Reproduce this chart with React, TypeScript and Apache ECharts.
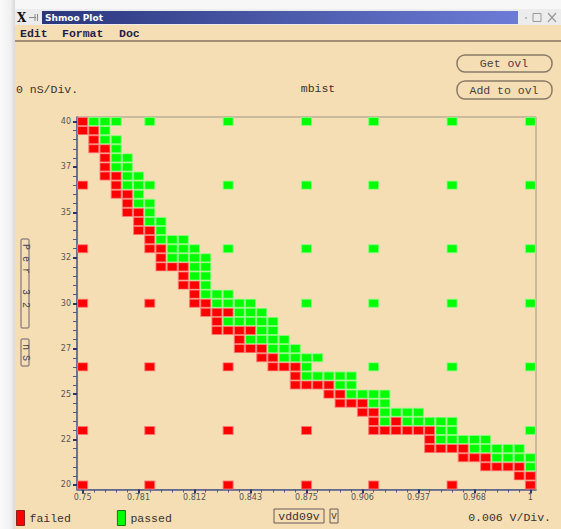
import { useEffect, useRef } from "react";
import * as echarts from "echarts";

// Supply voltage steps (V), one per column
const voltages = [
  0.75, 0.75625, 0.7625, 0.76875, 0.775, 0.78125, 0.7875, 0.79375, 0.8, 0.80625,
  0.8125, 0.81875, 0.825, 0.83125, 0.8375, 0.84375, 0.85, 0.85625, 0.8625, 0.86875,
  0.875, 0.88125, 0.8875, 0.89375, 0.9, 0.90625, 0.9125, 0.91875, 0.925, 0.93125,
  0.9375, 0.94375, 0.95, 0.95625, 0.9625, 0.96875, 0.975, 0.98125, 0.9875, 0.99375, 1,
];

// Period steps (nS), one per row, top to bottom
const timesNs = [
  40, 39.5, 39, 38.5, 38, 37.5, 37, 36.5, 36, 35.5, 35, 34.5, 34, 33.5, 33, 32.5,
  32, 31.5, 31, 30.5, 30, 29.5, 29, 28.5, 28, 27.5, 27, 26.5, 26, 25.5, 25, 24.5,
  24, 23.5, 23, 22.5, 22, 21.5, 21, 20.5, 20,
];

const xTickLabels = ["0.75", "0.781", "0.812", "0.843", "0.875", "0.906", "0.937", "0.968", "1"];
const yTickLabels = ["40", "37", "35", "32", "30", "27", "25", "22", "20"];

// Column indices (into voltages) of failed cells, per row of timesNs
const failedByRow: number[][] = [
  [0], [0, 1], [1], [1, 2], [2], [2], [2, 3], [0, 3], [3, 4], [4],
  [4, 5], [5], [5, 6], [6], [0, 6, 7], [7], [7, 8, 9], [9], [9, 10], [10],
  [0, 6, 10, 11], [11, 12, 13], [12], [12, 13, 14, 15], [14], [14, 15, 16], [16, 17],
  [0, 6, 13, 17, 18, 19], [19], [19, 20, 21, 22], [22, 23], [23, 24, 25], [25, 26],
  [26, 28], [0, 6, 13, 20, 26, 27, 28, 29, 30, 31], [31], [31, 32, 33, 34],
  [34, 35, 36], [36, 37, 38, 39], [39, 40], [0, 6, 13, 20, 26, 33, 40],
];

// Column indices (into voltages) of passed cells, per row of timesNs
const passedByRow: number[][] = [
  [1, 2, 3, 6, 13, 20, 26, 33, 40], [2], [2, 3], [3], [3, 4], [3, 4], [4, 5],
  [4, 5, 6, 13, 20, 26, 33, 40], [5], [5, 6], [6], [6, 7], [7], [7, 8, 9],
  [8, 9, 10, 13, 20, 26, 33, 40], [8, 9, 10, 11], [10, 11], [10, 11], [11], [11, 12, 13],
  [12, 13, 14, 15, 20, 26, 33, 40], [14, 15, 16], [13, 14, 15, 16, 17], [16, 17],
  [15, 16, 17, 18], [17, 18, 19], [18, 19, 20, 21], [20, 26, 33, 40],
  [20, 21, 22, 23, 24], [23, 24], [24, 25, 26, 27], [26, 27], [27, 28, 29, 30],
  [27, 29, 30, 31, 32, 33], [32, 33, 40], [32, 33, 34, 35, 36], [35, 36, 37, 38, 39],
  [37, 38, 39, 40], [40], [], [],
];

function toCells(rows: number[][]): number[][] {
  const out: number[][] = [];
  rows.forEach((cols, t) => cols.forEach((c) => out.push([c, t])));
  return out;
}

const AXIS = "#505b8c";
const MONO = '"Liberation Mono", "DejaVu Sans Mono", monospace';
const SANS = '"DejaVu Sans", sans-serif';

function verticalChars(chars: [string, number][], x: number): any[] {
  return chars.map(([ch, y]) => ({
    type: "text",
    x,
    y,
    rotation: -Math.PI / 2,
    style: { text: ch, fill: "#4a4050", font: `10px ${MONO}`, textAlign: "center", textVerticalAlign: "middle" },
  }));
}

export default function App() {
  const ref = useRef<HTMLDivElement>(null);

  useEffect(() => {
    if (!ref.current) return;
    const chart = echarts.init(ref.current, null, { renderer: "svg" });
    const xCats = voltages.map(String);
    const yCats = timesNs.map(String);

    const option: any = {
      animation: false,
      backgroundColor: "#f5deb3",
      grid: {
        left: 77,
        top: 117,
        right: 25,
        bottom: 39.5,
        show: true,
        borderColor: "#a39689",
        borderWidth: 1,
        backgroundColor: "transparent",
      },
      legend: {
        left: 16,
        top: 510,
        padding: 0,
        itemWidth: 8,
        itemHeight: 15,
        itemGap: 46,
        icon: "rect",
        selectedMode: false,
        textStyle: { fontFamily: MONO, fontSize: 11.5, color: "#3a3030" },
        data: [
          { name: "failed", itemStyle: { borderColor: "#8a2020", borderWidth: 1 } },
          { name: "passed", itemStyle: { borderColor: "#207020", borderWidth: 1 } },
        ],
      },
      xAxis: [
        {
          type: "category",
          data: xCats,
          position: "bottom",
          boundaryGap: true,
          axisLine: { show: true, lineStyle: { color: AXIS, width: 1.5 } },
          axisTick: { show: true, alignWithLabel: true, interval: 0, length: 3, lineStyle: { color: AXIS } },
          axisLabel: {
            interval: 4,
            margin: 4,
            fontSize: 8,
            fontFamily: SANS,
            color: "#555",
            formatter: (_v: string, i: number) => xTickLabels[i / 5] ?? "",
          },
          splitLine: { show: false },
        },
        {
          type: "category",
          data: xCats,
          position: "bottom",
          boundaryGap: true,
          axisLine: { show: false },
          axisTick: { show: true, alignWithLabel: true, interval: 4, length: 4, lineStyle: { color: "#2c3566", width: 2 } },
          axisLabel: { show: false },
          splitLine: { show: false },
        },
      ],
      yAxis: [
        {
          type: "category",
          data: yCats,
          inverse: true,
          position: "left",
          boundaryGap: true,
          axisLine: { show: true, lineStyle: { color: AXIS, width: 1.5 } },
          axisTick: { show: true, alignWithLabel: true, interval: 0, length: 4, lineStyle: { color: AXIS } },
          axisLabel: {
            interval: 4,
            margin: 6,
            fontSize: 8,
            fontFamily: SANS,
            color: "#555",
            formatter: (_v: string, i: number) => yTickLabels[i / 5] ?? "",
          },
          splitLine: { show: false },
        },
        {
          type: "category",
          data: yCats,
          inverse: true,
          position: "left",
          boundaryGap: true,
          axisLine: { show: false },
          axisTick: { show: true, alignWithLabel: true, interval: 4, length: 4, lineStyle: { color: "#2c3566", width: 2 } },
          axisLabel: { show: false },
          splitLine: { show: false },
        },
      ],
      series: [
        {
          name: "failed",
          type: "scatter",
          xAxisIndex: 0,
          yAxisIndex: 0,
          symbol: "rect",
          symbolSize: [10, 8],
          data: toCells(failedByRow),
          itemStyle: { color: "#ff0000", borderColor: "rgba(255,120,120,0.8)", borderWidth: 1, opacity: 1 },
          emphasis: { disabled: true },
        },
        {
          name: "passed",
          type: "scatter",
          xAxisIndex: 0,
          yAxisIndex: 0,
          symbol: "rect",
          symbolSize: [10, 8],
          data: toCells(passedByRow),
          itemStyle: { color: "#00ff00", borderColor: "rgba(130,255,130,0.8)", borderWidth: 1, opacity: 1 },
          emphasis: { disabled: true },
        },
      ],
      graphic: [
        // desktop around the window
        { type: "rect", shape: { x: 0, y: 0, width: 561, height: 9 }, style: { fill: "#f7f7f7" } },
        {
          type: "rect",
          shape: { x: 0, y: 0, width: 15, height: 529 },
          style: {
            fill: new echarts.graphic.LinearGradient(0, 0, 1, 0, [
              { offset: 0, color: "#fbfbfb" },
              { offset: 0.7, color: "#f0f0f0" },
              { offset: 1, color: "#d8d8d8" },
            ]),
          },
        },
        // title bar
        { type: "rect", shape: { x: 15, y: 9, width: 546, height: 16 }, style: { fill: "#ececec" } },
        {
          type: "rect",
          shape: { x: 42, y: 11, width: 476, height: 13 },
          style: {
            fill: new echarts.graphic.LinearGradient(0, 0, 1, 0, [
              { offset: 0, color: "#2a367c" },
              { offset: 1, color: "#6c7cd6" },
            ]),
          },
        },
        { type: "text", x: 45, y: 17.5, style: { text: "Shmoo Plot", fill: "#ffffff", font: `bold 9px ${SANS}`, textVerticalAlign: "middle" } },
        { type: "text", x: 17, y: 17.5, style: { text: "X", fill: "#111", font: `bold 12px "DejaVu Serif", serif`, textVerticalAlign: "middle" } },
        { type: "line", shape: { x1: 29, y1: 17.5, x2: 36, y2: 17.5 }, style: { stroke: "#888", lineWidth: 1 } },
        { type: "line", shape: { x1: 35, y1: 14, x2: 35, y2: 21 }, style: { stroke: "#888", lineWidth: 1 } },
        { type: "line", shape: { x1: 37.5, y1: 14, x2: 37.5, y2: 21 }, style: { stroke: "#888", lineWidth: 1 } },
        { type: "circle", shape: { cx: 526, cy: 18, r: 0.8 }, style: { fill: "#999" } },
        { type: "rect", shape: { x: 533, y: 13.5, width: 8, height: 8 }, style: { fill: "none", stroke: "#999", lineWidth: 1 } },
        { type: "line", shape: { x1: 548, y1: 13, x2: 556, y2: 22 }, style: { stroke: "#999", lineWidth: 1.2 } },
        { type: "line", shape: { x1: 556, y1: 13, x2: 548, y2: 22 }, style: { stroke: "#999", lineWidth: 1.2 } },
        // menu
        { type: "text", x: 20, y: 33, style: { text: "Edit", fill: "#1e1e4a", font: `bold 11.5px ${MONO}`, textVerticalAlign: "middle" } },
        { type: "text", x: 62, y: 33, style: { text: "Format", fill: "#1e1e4a", font: `bold 11.5px ${MONO}`, textVerticalAlign: "middle" } },
        { type: "text", x: 119, y: 33, style: { text: "Doc", fill: "#1e1e4a", font: `bold 11.5px ${MONO}`, textVerticalAlign: "middle" } },
        { type: "rect", shape: { x: 15, y: 40, width: 546, height: 2 }, style: { fill: "#a48e78" } },
        // header texts & buttons
        { type: "text", x: 16, y: 89, style: { text: "0 nS/Div.", fill: "#3a3030", font: `11.5px ${MONO}`, textVerticalAlign: "middle" } },
        { type: "text", x: 318, y: 88, style: { text: "mbist", fill: "#3a3030", font: `11.5px ${MONO}`, textAlign: "center", textVerticalAlign: "middle" } },
        { type: "rect", shape: { x: 457, y: 55, width: 95, height: 17, r: 8 }, style: { fill: "none", stroke: "#8a7a6a", lineWidth: 1.5 } },
        { type: "text", x: 504, y: 63.5, style: { text: "Get ovl", fill: "#4a4040", font: `11.5px ${MONO}`, textAlign: "center", textVerticalAlign: "middle" } },
        { type: "rect", shape: { x: 457, y: 81, width: 95, height: 18, r: 8 }, style: { fill: "none", stroke: "#8a7a6a", lineWidth: 1.5 } },
        { type: "text", x: 504, y: 90, style: { text: "Add to ovl", fill: "#4a4040", font: `11.5px ${MONO}`, textAlign: "center", textVerticalAlign: "middle" } },
        // y axis title boxes
        { type: "rect", shape: { x: 21, y: 239, width: 8, height: 89, r: 1 }, style: { fill: "none", stroke: "#6a6070", lineWidth: 1 } },
        ...verticalChars([["P", 247], ["e", 259], ["r", 271], ["3", 292], ["2", 305]], 25),
        { type: "rect", shape: { x: 21, y: 339, width: 8, height: 27, r: 1 }, style: { fill: "none", stroke: "#6a6070", lineWidth: 1 } },
        ...verticalChars([["n", 347], ["S", 358]], 25),
        // bottom controls
        { type: "rect", shape: { x: 274, y: 509, width: 50, height: 14 }, style: { fill: "none", stroke: "#6a5a5a", lineWidth: 1 } },
        { type: "text", x: 299, y: 516.5, style: { text: "vdd09v", fill: "#3a3030", font: `11.5px ${MONO}`, textAlign: "center", textVerticalAlign: "middle" } },
        { type: "rect", shape: { x: 330, y: 509, width: 8, height: 14 }, style: { fill: "none", stroke: "#6a5a5a", lineWidth: 1 } },
        { type: "text", x: 334, y: 516.5, style: { text: "V", fill: "#3a3030", font: `9px ${MONO}`, textAlign: "center", textVerticalAlign: "middle" } },
        { type: "text", x: 551, y: 517, style: { text: "0.006 V/Div.", fill: "#3a3030", font: `11.5px ${MONO}`, textAlign: "right", textVerticalAlign: "middle" } },
      ],
    };

    chart.setOption(option);
    return () => chart.dispose();
  }, []);

  return (
    <div
      ref={ref}
      style={{ position: "fixed", left: 0, top: 0, width: 561, height: 529 }}
    />
  );
}
